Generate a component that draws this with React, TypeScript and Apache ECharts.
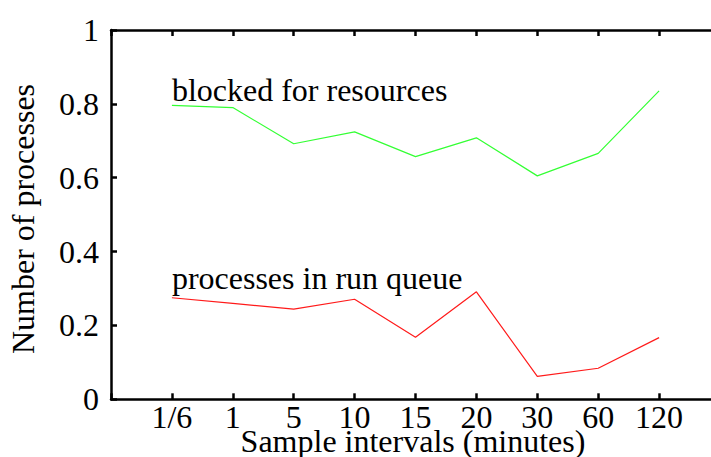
import React, { useEffect, useRef } from "react";
import * as echarts from "echarts";

const categories = ["1/6", "1", "5", "10", "15", "20", "30", "60", "120"];
const blockedForResources = [0.796, 0.79, 0.692, 0.724, 0.657, 0.708, 0.605, 0.666, 0.835];
const processesInRunQueue = [0.275, 0.26, 0.244, 0.271, 0.168, 0.291, 0.062, 0.084, 0.167];
const yTicks = [0, 0.2, 0.4, 0.6, 0.8, 1];
const seriesNames = ["blocked for resources", "processes in run queue"];
const yAxisTitle = "Number of processes";
const xAxisTitle = "Sample intervals (minutes)";
// label anchor (category index, value at text baseline)
const labelAnchors: [number, number][] = [
  [0, 0.809],
  [0, 0.298],
];

const FONT = "Liberation Serif";

export default function App() {
  const ref = useRef<HTMLDivElement>(null);
  useEffect(() => {
    if (!ref.current) return;
    const chart = echarts.init(ref.current, undefined, { renderer: "svg" });
    const axisLine = { show: true, onZero: false, lineStyle: { color: "#000", width: 2.5 } };
    const xCommon = {
      type: "value" as const,
      min: -1,
      max: 9,
      interval: 1,
      axisLine,
      axisTick: { show: true, inside: true, length: 6, lineStyle: { color: "#000", width: 2.5 } },
      splitLine: { show: false },
    };
    chart.setOption({
      animation: false,
      backgroundColor: "#fff",
      grid: {
        left: 111,
        right: -9,
        top: 30,
        bottom: 57.7,
        containLabel: false,
        outerBoundsMode: "none",
      },
      xAxis: [
        {
          ...xCommon,
          position: "bottom",
          axisLabel: {
            show: true,
            margin: 2,
            fontFamily: FONT,
            fontSize: 32,
            color: "#000",
            formatter: (v: number) =>
              Number.isInteger(v) && v >= 0 && v < categories.length ? categories[v] : "",
          },
        },
        {
          ...xCommon,
          position: "top",
          axisLabel: { show: false },
        },
      ],
      yAxis: {
        type: "value",
        min: yTicks[0],
        max: yTicks[yTicks.length - 1],
        interval: 0.2,
        axisLine,
        axisTick: { show: true, inside: true, length: 6, lineStyle: { color: "#000", width: 2.5 } },
        splitLine: { show: false },
        axisLabel: {
          margin: 12,
          fontFamily: FONT,
          fontSize: 32,
          color: "#000",
          formatter: (v: number) => String(Math.round(v * 10) / 10),
        },
      },
      series: [
        {
          name: seriesNames[0],
          type: "line",
          data: blockedForResources.map((v, i) => [i, v]),
          symbol: "none",
          lineStyle: { color: "#33ff33", width: 1.2 },
        },
        {
          name: seriesNames[1],
          type: "line",
          data: processesInRunQueue.map((v, i) => [i, v]),
          symbol: "none",
          lineStyle: { color: "#ff1a1a", width: 1.2 },
        },
      ],
    });
    const graphics: any[] = labelAnchors.map((a, i) => {
      const p = chart.convertToPixel({ gridIndex: 0 }, a) as number[];
      return {
        type: "text",
        x: p[0],
        y: p[1] - 10.8,
        style: {
          text: seriesNames[i],
          fontFamily: FONT,
          fontSize: 32,
          fill: "#000",
          align: "left",
          verticalAlign: "middle",
        },
      };
    });
    graphics.push({
      type: "text",
      x: 22.5,
      y: 219,
      rotation: Math.PI / 2,
      style: {
        text: yAxisTitle,
        fontFamily: FONT,
        fontSize: 32,
        fill: "#000",
        align: "center",
        verticalAlign: "middle",
      },
    });
    graphics.push({
      type: "text",
      x: 413,
      y: 441,
      style: {
        text: xAxisTitle,
        fontFamily: FONT,
        fontSize: 32,
        fill: "#000",
        align: "center",
        verticalAlign: "middle",
      },
    });
    chart.setOption({ graphic: graphics });
    return () => chart.dispose();
  }, []);
  return <div ref={ref} style={{ width: 711, height: 457, position: "absolute", left: 0, top: 0 }} />;
}
